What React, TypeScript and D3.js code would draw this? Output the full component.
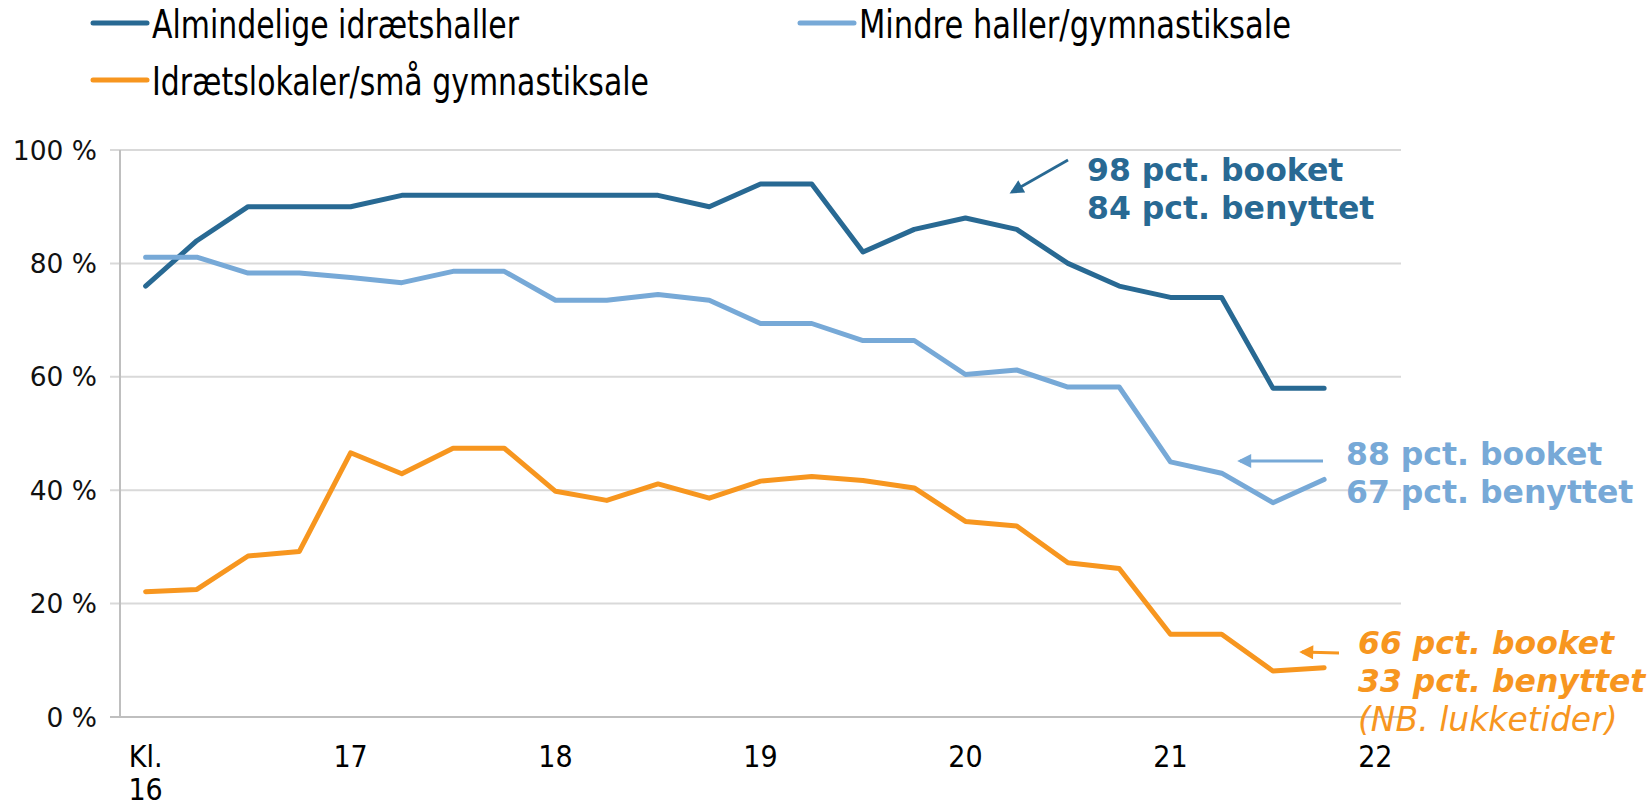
import React, { useEffect } from 'react';
import * as d3 from 'd3';

// kvarters-intervaller fra kl. 16 til 22
const slots = [
  '16:00', '16:15', '16:30', '16:45', '17:00', '17:15', '17:30', '17:45',
  '18:00', '18:15', '18:30', '18:45', '19:00', '19:15', '19:30', '19:45',
  '20:00', '20:15', '20:30', '20:45', '21:00', '21:15', '21:30', '21:45', '22:00'
];
const hourTicks = ['16:00', '17:00', '18:00', '19:00', '20:00', '21:00', '22:00'];
const hourLabels = [['Kl.', '16'], ['17'], ['18'], ['19'], ['20'], ['21'], ['22']];
const yTicks = [0, 20, 40, 60, 80, 100];

const almindelige = [76, 84, 90, 90, 90, 92, 92, 92, 92, 92, 92, 90, 94, 94, 82, 86, 88, 86, 80, 76, 74, 74, 58, 58];
const mindre = [81.1, 81.1, 78.3, 78.3, 77.5, 76.6, 78.6, 78.6, 73.5, 73.5, 74.5, 73.5, 69.4, 69.4, 66.4, 66.4, 60.4, 61.2, 58.2, 58.2, 45, 43, 37.8, 41.9];
const lokaler = [22.1, 22.5, 28.4, 29.2, 46.6, 42.9, 47.4, 47.4, 39.8, 38.2, 41.1, 38.6, 41.6, 42.4, 41.7, 40.4, 34.5, 33.7, 27.2, 26.2, 14.6, 14.6, 8.1, 8.7];

const seriesNames = ['Almindelige idrætshaller', 'Mindre haller/gymnastiksale', 'Idrætslokaler/små gymnastiksale'];
const colors = ['#286993', '#77a9d7', '#f7961f'];

const W = 1652;
const H = 807;
const narrow = '"Liberation Sans Narrow", "DejaVu Sans Condensed", "Liberation Sans", sans-serif';
const verdana = '"DejaVu Sans", Verdana, sans-serif';

export default function App() {
  useEffect(() => {
    document.body.style.margin = '0';
    document.body.style.overflow = 'hidden';
  }, []);

  const x = d3.scaleBand<string>().domain(slots).range([120, 1401]).padding(0);
  const cx = (s: string) => (x(s) as number) + x.bandwidth() / 2;
  const y = d3.scaleLinear().domain([0, 100]).range([717, 150]);

  const line = d3.line<number>()
    .x((d, i) => cx(slots[i]))
    .y(d => y(d));

  const series = [almindelige, mindre, lokaler];

  return (
    <svg width={W} height={H} style={{ display: 'block', background: '#fff' }}>
      {/* legend */}
      <g fontFamily={narrow} fontSize={39} fill="#000">
        <line x1={93} x2={147} y1={23} y2={23} stroke={colors[0]} strokeWidth={5} strokeLinecap="round" />
        <text x={152} y={24} dominantBaseline="central" textLength={367} lengthAdjust="spacingAndGlyphs">{seriesNames[0]}</text>
        <line x1={800} x2={854} y1={23} y2={23} stroke={colors[1]} strokeWidth={5} strokeLinecap="round" />
        <text x={859} y={24} dominantBaseline="central" textLength={432} lengthAdjust="spacingAndGlyphs">{seriesNames[1]}</text>
        <line x1={93} x2={147} y1={80} y2={80} stroke={colors[2]} strokeWidth={5} strokeLinecap="round" />
        <text x={152} y={81} dominantBaseline="central" textLength={497} lengthAdjust="spacingAndGlyphs">{seriesNames[2]}</text>
      </g>

      {/* grid and y axis */}
      {yTicks.map(t => (
        <g key={t}>
          <line x1={110} x2={1401} y1={y(t)} y2={y(t)} stroke={t === 0 ? '#bfbfbf' : '#d9d9d9'} strokeWidth={2} />
          <text x={97} y={y(t)} textAnchor="end" dominantBaseline="central"
            fontFamily={verdana} fontSize={26.5} fill="#111">{t} %</text>
        </g>
      ))}
      <line x1={120} x2={120} y1={y(100)} y2={y(0)} stroke="#bfbfbf" strokeWidth={2} />

      {/* x labels */}
      {hourTicks.map((h, i) => (
        <text key={h} x={cx(h)} y={756} textAnchor="middle" dominantBaseline="central"
          fontFamily={narrow} fontSize={30} fill="#000">
          {hourLabels[i].map((l, j) => (
            <tspan key={j} x={cx(h)} dy={j === 0 ? 0 : 33}>{l}</tspan>
          ))}
        </text>
      ))}

      {/* lines */}
      {series.map((s, i) => (
        <path key={i} d={line(s) || ''} fill="none" stroke={colors[i]} strokeWidth={5}
          strokeLinejoin="round" strokeLinecap="round" />
      ))}

      {/* annotations */}
      <defs>
        {colors.map((c, i) => (
          <marker key={i} id={`arr${i}`} viewBox="0 0 10 10" refX={8} refY={5}
            markerWidth={6} markerHeight={5} orient="auto-start-reverse">
            <path d="M0,0 L10,5 L0,10 z" fill={c} />
          </marker>
        ))}
      </defs>
      <line x1={1068} y1={160} x2={1012} y2={192} stroke={colors[0]} strokeWidth={2.8} markerEnd="url(#arr0)" />
      <g fontFamily={verdana} fontWeight="bold" fontSize={31.5} fill={colors[0]}>
        <text x={1087} y={181}>98 pct. booket</text>
        <text x={1087} y={219}>84 pct. benyttet</text>
      </g>
      <line x1={1323} y1={461} x2={1240} y2={461} stroke={colors[1]} strokeWidth={2.8} markerEnd="url(#arr1)" />
      <g fontFamily={verdana} fontWeight="bold" fontSize={31.5} fill={colors[1]}>
        <text x={1346} y={465}>88 pct. booket</text>
        <text x={1346} y={503}>67 pct. benyttet</text>
      </g>
      <line x1={1339} y1={653} x2={1302} y2={652} stroke={colors[2]} strokeWidth={2.8} markerEnd="url(#arr2)" />
      <g fontFamily={verdana} fontStyle="italic" fontSize={31.5} fill={colors[2]}>
        <text x={1358} y={654} fontWeight="bold">66 pct. booket</text>
        <text x={1358} y={692} fontWeight="bold">33 pct. benyttet</text>
        <text x={1358} y={731} fontSize={33}>(NB. lukketider)</text>
      </g>
    </svg>
  );
}
